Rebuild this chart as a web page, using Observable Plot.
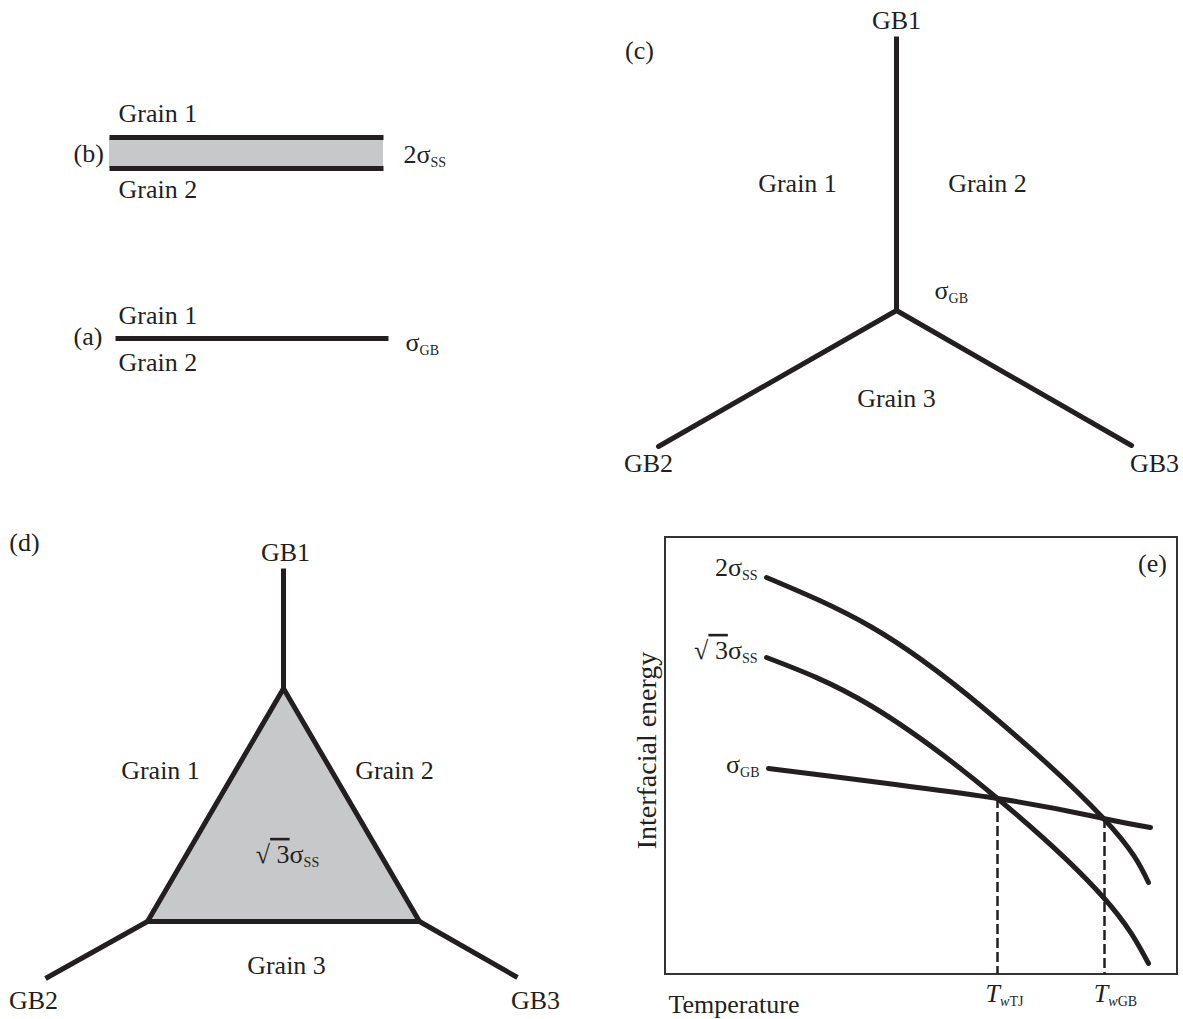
<!DOCTYPE html>
<html><head><meta charset="utf-8">
<script src="https://cdn.jsdelivr.net/npm/d3@7"></script>
<script src="https://cdn.jsdelivr.net/npm/@observablehq/plot@0.6"></script>
<style>html,body{margin:0;background:#fff}#chart svg{display:block}</style>
</head><body><div id="chart"></div>
<script>
// ---- diagram data (schematic coordinates) ----
const straightBoundaries = [
  {x1:109, y1:137, x2:383, y2:137},   // (b) upper interface
  {x1:109, y1:168, x2:383, y2:168},   // (b) lower interface
  {x1:115, y1:338, x2:388, y2:338},   // (a) grain boundary
  {x1:896, y1:36,  x2:896, y2:310},   // (c) GB1
  {x1:283, y1:568, x2:283, y2:688},   // (d) GB1
  {x1:147, y1:921, x2:45,  y2:978},   // (d) GB2
  {x1:419, y1:921, x2:517, y2:977}    // (d) GB3
];
const junctionC = [
  {x:658, y:446}, {x:896, y:310}, {x:1131, y:445}
];
const wettingLayer = [{x1:109, x2:383, y1:137, y2:168}];
const wettingTriangle = [
  {x:283, y:688}, {x:147, y:921}, {x:419, y:921}, {x:283, y:688}
];
const curveTwoSS = [
  {x:766, y:577}, {x:870, y:626}, {x:981, y:706}, {x:1103, y:818}, {x:1148, y:882}
];
const curveRoot3SS = [
  {x:766, y:657}, {x:870, y:705}, {x:997, y:798}, {x:1103, y:897}, {x:1148, y:963}
];
const curveGB = [
  {x:768, y:768}, {x:997, y:798}, {x:1103, y:818}, {x:1150, y:827}
];
const wettingTemps = [
  {x:997, y1:798, y2:974}, {x:1104, y1:818, y2:974}
];
const frameE = [{x1:665, x2:1177, y1:537, y2:974}];

const labelsStart = [
  {text:"Grain 1", x:118, y:113},
  {text:"(b)", x:73, y:153},
  {text:"2σ_{SS}", x:403, y:154},
  {text:"Grain 2", x:118, y:189},
  {text:"Grain 1", x:118, y:315},
  {text:"(a)", x:73, y:336},
  {text:"σ_{GB}", x:405, y:342},
  {text:"Grain 2", x:118, y:362},
  {text:"σ_{GB}", x:934, y:290},
  {text:"Temperature", x:668, y:1004}
];
const labelsMiddle = [
  {text:"GB1", x:896, y:20},
  {text:"(c)", x:639, y:50},
  {text:"Grain 1", x:797, y:183},
  {text:"Grain 2", x:987, y:183},
  {text:"Grain 3", x:896, y:398},
  {text:"GB2", x:648, y:463},
  {text:"GB3", x:1154, y:463},
  {text:"(d)", x:24, y:542},
  {text:"GB1", x:285, y:552},
  {text:"Grain 1", x:160, y:770},
  {text:"Grain 2", x:394, y:770},
  {text:"√~{\u00a03}σ_{SS}", x:287, y:854},
  {text:"Grain 3", x:286, y:965},
  {text:"GB2", x:33, y:1000},
  {text:"GB3", x:535, y:1000},
  {text:"(e)", x:1152, y:563},
  {text:"*T*_{*w*TJ}", x:1004, y:993},
  {text:"*T*_{*w*GB}", x:1115, y:993}
];
const labelsEnd = [
  {text:"2σ_{SS}", x:757, y:567},
  {text:"√~{\u00a03}σ_{SS}", x:757, y:650},
  {text:"σ_{GB}", x:759, y:764}
];
const axisLabelY = [{text:"Interfacial energy", x:647, y:750}];

// ---- drawing ----
const INK = "#231f20", FILL = "#c7c8ca", FONT = "Liberation Serif, Times New Roman, serif";
const FS = 26;

const chart = Plot.plot({
  width: 1183, height: 1019,
  margin: 0,
  x: {domain: [0, 1183], range: [0, 1183], axis: null},
  y: {domain: [0, 1019], range: [0, 1019], axis: null},
  style: {background: "#fff", fontFamily: FONT},
  marks: [
    Plot.rect(wettingLayer, {x1:"x1", x2:"x2", y1:"y1", y2:"y2", fill: FILL}),
    Plot.line(wettingTriangle, {x:"x", y:"y", fill: FILL, stroke: "none"}),
    Plot.rect(frameE, {x1:"x1", x2:"x2", y1:"y1", y2:"y2", fill:"none", stroke:"#333", strokeWidth:2}),
    Plot.link(straightBoundaries, {x1:"x1", y1:"y1", x2:"x2", y2:"y2", stroke: INK, strokeWidth: 5, strokeLinecap:"butt"}),
    Plot.line(junctionC, {x:"x", y:"y", stroke: INK, strokeWidth: 5, strokeLinejoin:"miter"}),
    Plot.line(wettingTriangle, {x:"x", y:"y", stroke: INK, strokeWidth: 5, strokeLinejoin:"miter"}),
    Plot.ruleX(wettingTemps, {x:"x", y1:"y1", y2:"y2", stroke: INK, strokeWidth: 2.5, strokeDasharray:"10,4"}),
    Plot.line(curveTwoSS, {x:"x", y:"y", curve:"natural", stroke: INK, strokeWidth: 5}),
    Plot.line(curveRoot3SS, {x:"x", y:"y", curve:"natural", stroke: INK, strokeWidth: 5}),
    Plot.line(curveGB, {x:"x", y:"y", curve:"natural", stroke: INK, strokeWidth: 5}),
    Plot.text(labelsStart, {x:"x", y:"y", text:"text", textAnchor:"start", fontSize: FS, fill: INK, fontFamily: FONT}),
    Plot.text(labelsMiddle, {x:"x", y:"y", text:"text", textAnchor:"middle", fontSize: FS, fill: INK, fontFamily: FONT}),
    Plot.text(labelsEnd, {x:"x", y:"y", text:"text", textAnchor:"end", fontSize: FS, fill: INK, fontFamily: FONT}),
    Plot.text(axisLabelY, {x:"x", y:"y", text:"text", rotate:-90, fontSize: 28, fill: INK, fontFamily: FONT})
  ]
});

// simple markup: _{..} subscript, ~{..} overline, *..* italic
function applyMarkup(el, fs) {
  const src = el.textContent;
  if (!/[_*~]/.test(src)) return;
  const runs = []; const stack = []; let ital = false; let buf = "";
  const push = () => { if (buf) runs.push({t: buf, ital, sub: stack.includes("sub"), over: stack.includes("over")}); buf = ""; };
  for (let i = 0; i < src.length; i++) {
    const c = src[i];
    if ((c === "_" || c === "~") && src[i + 1] === "{") { push(); stack.push(c === "_" ? "sub" : "over"); i++; }
    else if (c === "}" && stack.length) { push(); stack.pop(); }
    else if (c === "*") { push(); ital = !ital; }
    else buf += c;
  }
  push();
  el.textContent = "";
  const shift = 0.17 * fs; let shifted = false;
  for (const r of runs) {
    const ts = document.createElementNS("http://www.w3.org/2000/svg", "tspan");
    ts.textContent = r.t;
    if (r.ital) ts.setAttribute("font-style", "italic");
    if (r.sub) ts.setAttribute("font-size", (0.54 * fs) + "px");
    if (r.over) ts.setAttribute("text-decoration", "overline");
    if (r.sub && !shifted) { ts.setAttribute("dy", shift); shifted = true; }
    else if (!r.sub && shifted) { ts.setAttribute("dy", -shift); shifted = false; }
    el.appendChild(ts);
  }
}
d3.select(chart).selectAll("text").each(function () {
  const g = this.closest("g[font-size]");
  const fs = g ? parseFloat(g.getAttribute("font-size")) : FS;
  applyMarkup(this, fs || FS);
});

document.getElementById("chart").appendChild(chart);
</script>
</body></html>
